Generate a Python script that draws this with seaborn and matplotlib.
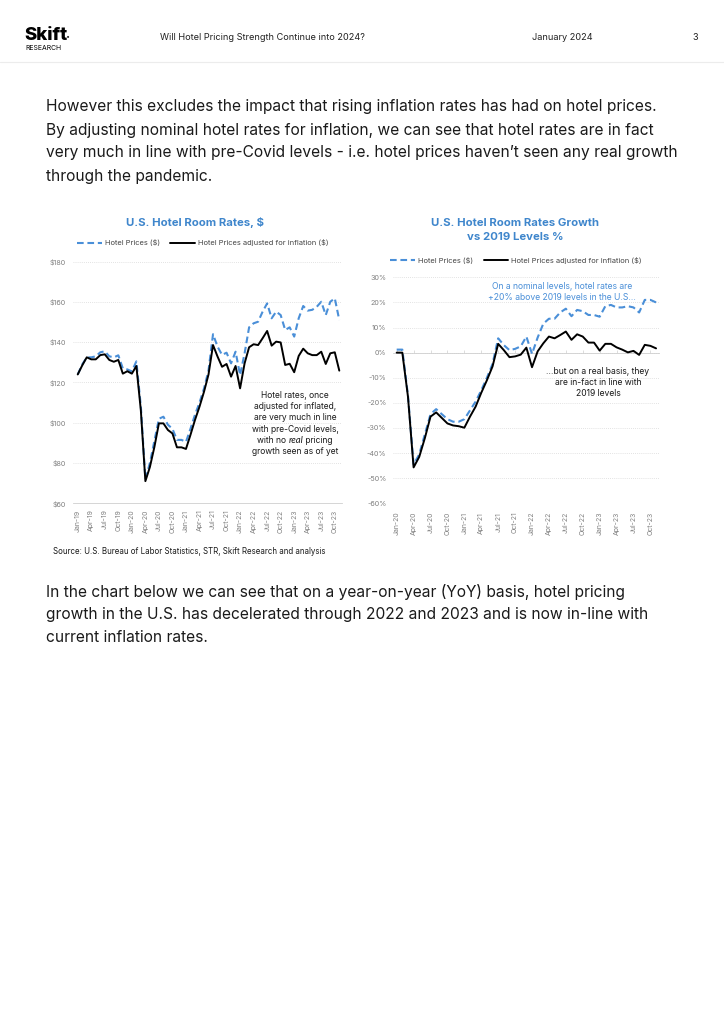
import pandas as pd
import seaborn as sns
import matplotlib.pyplot as plt
from matplotlib.lines import Line2D

# ---- data ------------------------------------------------------------------
left_months = pd.date_range('2019-01-01', periods=59, freq='MS')
hotel_prices = [124, 129, 132.5, 132.5, 133, 135, 135.5, 133, 132.5, 133.5, 127, 126.5,
                125.5, 130.5, 108, 72, 80, 91, 102, 103, 99, 97, 91.5, 91.5,
                90.5, 97, 104, 110, 117, 126, 144, 137.8, 133.7, 134.8, 129.5, 135.3,
                123.7, 134.5, 147.4, 149.4, 150.2, 155.2, 159.3, 151.9, 155.2, 153.5, 146.1, 147.4,
                142.8, 151.9, 158, 155.7, 156.1, 157.6, 160.1, 153.5, 160.1, 161.8, 151]
hotel_prices_real = [124, 128.5, 132.5, 131.5, 131.5, 133.6, 134, 131.2, 130.3, 131.2, 124.4, 125.6,
                     124.4, 128.2, 106, 71, 78, 88, 99.7, 99.7, 96.4, 94.7, 87.8, 87.8,
                     87, 94, 101.4, 108, 115.4, 124, 138.6, 132.9, 127.8, 129.2, 122.9, 128.2,
                     117.1, 129.5, 137.5, 139, 138.6, 142, 145.6, 138.3, 140.3, 139.9, 128.7, 129.3,
                     125.1, 133.2, 136.8, 134.5, 133.6, 133.6, 135.3, 129.2, 134.5, 135, 125.9]

right_months = pd.date_range('2020-01-01', periods=47, freq='MS')
growth_nominal = [1.2, 1.2, -17, -44.5, -40.5, -32.5, -24.5, -22.5, -24.5, -26.5, -27.5, -27.5,
                  -26.5, -23, -19.5, -15, -10, -4.5, 5.7, 3, 1, 1.5, 2.5, 6.4,
                  -0.5, 6, 11.5, 13.5, 13.5, 16, 17.5, 14.5, 17, 16.5, 15, 15,
                  14.3, 18.5, 19, 18, 18, 18.5, 18, 16, 21, 21, 20]
growth_real = [0, 0, -17.5, -45.7, -41.5, -34, -25.5, -23.8, -26, -28.2, -29, -29.3,
               -29.9, -25.5, -21.5, -16, -11, -5.5, 3.5, 1.0, -1.8, -1.5, -0.8, 2.0,
               -5.8, 0.5, 3.7, 6.4, 5.7, 7, 8.4, 5.1, 7.3, 6.4, 4, 4,
               0.8, 3.5, 3.5, 2.1, 1.2, 0.1, 0.7, -0.9, 3.1, 2.7, 1.7]

left_yticks = [60, 80, 100, 120, 140, 160, 180]
right_yticks = [-60, -50, -40, -30, -20, -10, 0, 10, 20, 30]

BLUE = '#4a8fd8'
TITLE_BLUE = '#3f86cc'
GREY = '#808080'
GRID = '#d9d9d9'
AXIS = '#cfcfcf'
INK = '#1a1a1a'

sns.set_theme(style='white')
plt.rcParams['font.family'] = ['Inter', 'DejaVu Sans']

W, H = 724, 1024
fig = plt.figure(figsize=(W / 100, H / 100), dpi=100)
renderer = fig.canvas.get_renderer()


def fx(x):
    return x / W


def fy(y):
    return 1 - y / H


def add_axes(left, top, right, bottom):
    return fig.add_axes([fx(left), fy(bottom), (right - left) / W, (bottom - top) / H])


def style_axes(ax, months, yticks, fmt):
    ax.set_yticks(yticks)
    ax.set_yticklabels([fmt(v) for v in yticks])
    idx = list(range(0, len(months), 3))
    ax.set_xticks(idx)
    ax.set_xticklabels([months[i].strftime('%b-%y') for i in idx], rotation=90)
    ax.yaxis.grid(True, linestyle=(0, (1, 1.5)), color=GRID, lw=0.6)
    ax.xaxis.grid(False)
    for s in ['top', 'right', 'left']:
        ax.spines[s].set_visible(False)
    ax.set_xlabel('')
    ax.set_ylabel('')
    ax.tick_params(axis='y', length=0, pad=5, labelsize=5.2, labelcolor=GREY)
    ax.set_facecolor('none')


def centered_lines(xc, y0, step, lines, size, color):
    # one text per line so the spacing stays even; a line may be a list of (text, style) parts
    for k, line in enumerate(lines):
        y = fy(y0 + step * k)
        if isinstance(line, str):
            fig.text(fx(xc), y, line, fontsize=size, ha='center', va='center', color=color)
            continue
        pieces = []
        for part, style in line:
            if style == 'italic':
                t = fig.text(0, y, part, fontsize=size * 1.12, va='center', color=color,
                             style='italic', family=['Lato'])
            else:
                t = fig.text(0, y, part, fontsize=size, va='center', color=color)
            pieces.append(t)
        widths = [p.get_window_extent(renderer).width for p in pieces]
        x = xc - sum(widths) / 2
        for p, w in zip(pieces, widths):
            p.set_x(fx(x))
            x += w


# ---- header -----------------------------------------------------------------
fig.text(fx(24), fy(36), 'Skift', fontsize=13.5, fontweight='heavy', va='center', ha='left',
         color='black')
fig.text(fx(66), fy(38), '·', fontsize=9, fontweight='bold', va='center', ha='left')
fig.text(fx(25), fy(47.5), 'RESEARCH', fontsize=4.9, va='center', ha='left', color='black')
fig.text(fx(160), fy(38), 'Will Hotel Pricing Strength Continue into 2024?', fontsize=6.6,
         va='center', color='#222222')
fig.text(fx(532), fy(38), 'January 2024', fontsize=6.6, va='center', color='#222222')
fig.text(fx(692), fy(38), '3', fontsize=6.6, va='center', color='#222222')
fig.add_artist(Line2D([0, 1], [fy(62), fy(62)], color='#ececec', lw=0.8))

# ---- body text ----------------------------------------------------------------
top_lines = ['However this excludes the impact that rising inflation rates has had on hotel prices.',
             'By adjusting nominal hotel rates for inflation, we can see that hotel rates are in fact',
             'very much in line with pre-Covid levels - i.e. hotel prices haven\u2019t seen any real growth',
             'through the pandemic.']
for k, line in enumerate(top_lines):
    fig.text(fx(46), fy(107 + 23 * k), line, fontsize=11.2, va='center', color=INK)

bottom_lines = ['In the chart below we can see that on a year-on-year (YoY) basis, hotel pricing',
                'growth in the U.S. has decelerated through 2022 and 2023 and is now in-line with',
                'current inflation rates.']
for k, line in enumerate(bottom_lines):
    fig.text(fx(46), fy(592 + 23 * k), line, fontsize=11.2, va='center', color=INK)

# ---- left chart ---------------------------------------------------------------
df_left = pd.DataFrame({'idx': range(len(left_months)),
                        'Hotel Prices ($)': hotel_prices,
                        'Hotel Prices adjusted for inflation ($)': hotel_prices_real})
ax1 = add_axes(73, 261.7, 342, 503.3)
sns.lineplot(data=df_left, x='idx', y='Hotel Prices ($)', ax=ax1, color=BLUE, lw=1.5,
             label='Hotel Prices ($)')
ax1.lines[-1].set_dashes([3.2, 1.8])
sns.lineplot(data=df_left, x='idx', y='Hotel Prices adjusted for inflation ($)', ax=ax1,
             color='black', lw=1.4, label='Hotel Prices adjusted for inflation ($)')
ax1.set_ylim(60, 180)
ax1.set_xlim(-1.05, 58.6)
style_axes(ax1, left_months, left_yticks, lambda v: f'${v}')
ax1.spines['bottom'].set_color(AXIS)
ax1.spines['bottom'].set_linewidth(0.6)
ax1.tick_params(axis='x', length=2.5, width=0.5, color=AXIS, pad=2, labelsize=5.0,
                labelcolor=GREY)
ax1.legend(loc='center', bbox_to_anchor=(fx(203), fy(243)), bbox_transform=fig.transFigure,
           ncol=2, frameon=False, fontsize=5.4, handlelength=3.3, handletextpad=0.4,
           columnspacing=1.4, labelcolor='#444444')

fig.text(fx(195), fy(222), 'U.S. Hotel Room Rates, $', fontsize=8.2, fontweight='bold',
         ha='center', va='center', color=TITLE_BLUE)
centered_lines(295, 395, 11.4,
               ['Hotel rates, once', 'adjusted for inflated,', 'are very much in line',
                'with pre-Covid levels,',
                [('with no ', 'normal'), ('real', 'italic'), (' pricing', 'normal')],
                'growth seen as of yet'],
               6.1, INK)
fig.text(fx(53), fy(551), 'Source: U.S. Bureau of Labor Statistics, STR, Skift Research and analysis',
         fontsize=5.7, va='center', color=INK)

# ---- right chart --------------------------------------------------------------
df_right = pd.DataFrame({'idx': range(len(right_months)),
                         'Hotel Prices ($)': growth_nominal,
                         'Hotel Prices adjusted for inflation ($)': growth_real})
ax2 = add_axes(393.3, 277.3, 660, 503.3)
ax2.axhline(0, color=AXIS, lw=0.6, zorder=1)
sns.lineplot(data=df_right, x='idx', y='Hotel Prices ($)', ax=ax2, color=BLUE, lw=1.5,
             label='Hotel Prices ($)')
ax2.lines[-1].set_dashes([3.2, 1.8])
sns.lineplot(data=df_right, x='idx', y='Hotel Prices adjusted for inflation ($)', ax=ax2,
             color='black', lw=1.4, label='Hotel Prices adjusted for inflation ($)')
ax2.set_ylim(-60, 30)
ax2.set_xlim(-0.6, 46.7)
style_axes(ax2, right_months, right_yticks, lambda v: f'{v}%')
ax2.spines['bottom'].set_visible(False)
ax2.tick_params(axis='x', length=0, pad=6, labelsize=5.0, labelcolor=GREY)
# month ticks sitting on the zero line
zero_axis = ax2.secondary_xaxis(60 / 90)
zero_axis.set_xticks(ax2.get_xticks())
zero_axis.set_xticklabels([])
zero_axis.tick_params(axis='x', length=2.5, width=0.5, color=AXIS)
for s in zero_axis.spines.values():
    s.set_visible(False)
ax2.legend(loc='center', bbox_to_anchor=(fx(516), fy(260)), bbox_transform=fig.transFigure,
           ncol=2, frameon=False, fontsize=5.4, handlelength=3.3, handletextpad=0.4,
           columnspacing=1.4, labelcolor='#444444')

fig.text(fx(515), fy(230), 'U.S. Hotel Room Rates Growth\nvs 2019 Levels %', fontsize=8.2,
         fontweight='bold', ha='center', va='center', linespacing=1.4, color=TITLE_BLUE)
centered_lines(562, 286.5, 11.4,
               ['On a nominal levels, hotel rates are', '+20% above 2019 levels in the U.S...'],
               6.2, BLUE)
centered_lines(598, 371, 11.4,
               ['...but on a real basis, they', 'are in-fact in line with', '2019 levels'],
               6.2, INK)

plt.savefig('out.png', dpi=100)
